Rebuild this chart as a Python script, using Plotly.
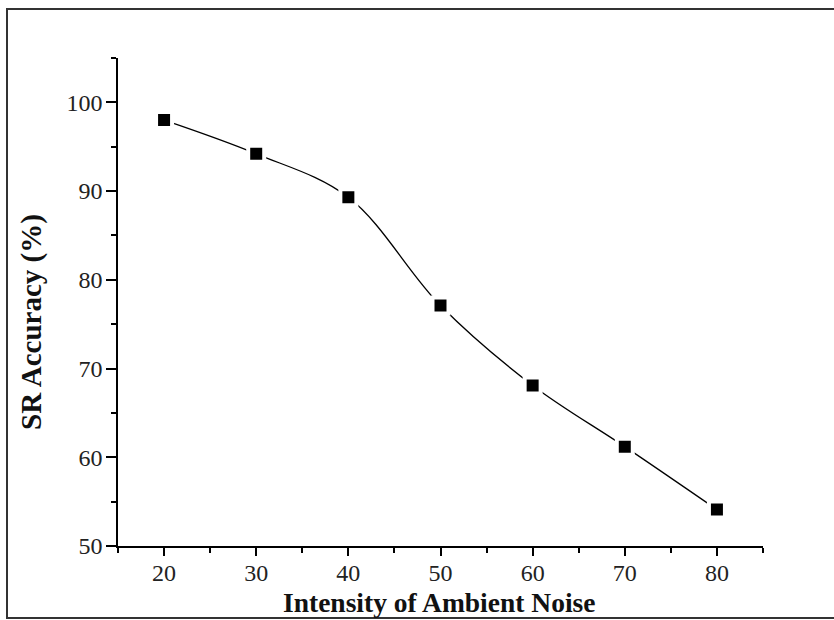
import plotly.graph_objects as go

noise = [20, 30, 40, 50, 60, 70, 80]
accuracy = [98.0, 94.2, 89.3, 77.1, 68.1, 61.2, 54.1]
x_ticks = [20, 30, 40, 50, 60, 70, 80]
y_ticks = [50, 60, 70, 80, 90, 100]
x_title = "Intensity of Ambient Noise"
y_title = "SR Accuracy (%)"

W, H = 834, 620
L, R, T, B = 118, 763, 58, 546

fig = go.Figure()
fig.add_trace(go.Scatter(
    x=noise, y=accuracy, mode="lines+markers",
    line=dict(color="black", width=1.3, shape="spline", smoothing=1),
    marker=dict(symbol="square", size=16, color="black",
                line=dict(color="white", width=4)),
    showlegend=False, cliponaxis=False,
))

font = "Liberation Serif, Times New Roman, serif"
fig.update_layout(
    width=W, height=H,
    margin=dict(l=L, r=W - R, t=T, b=H - B, pad=0, autoexpand=False),
    paper_bgcolor="white", plot_bgcolor="white",
    font=dict(family=font, color="black"),
    xaxis=dict(
        range=[15, 85], tickvals=x_ticks, showgrid=False, zeroline=False,
        showline=True, linecolor="black", linewidth=1.5, automargin=False,
        ticks="outside", ticklen=8, tickwidth=1.5, tickcolor="black",
        minor=dict(dtick=5, tick0=15, ticks="outside", ticklen=5, tickwidth=1.5, tickcolor="black"),
        tickfont=dict(size=24, family=font, color="#222"),
        ticklabelstandoff=-4,
    ),
    yaxis=dict(
        range=[50, 105], tickvals=y_ticks, showgrid=False, zeroline=False,
        showline=True, linecolor="black", linewidth=1.5, automargin=False,
        ticks="outside", ticklen=10, tickwidth=1.5, tickcolor="black",
        minor=dict(dtick=5, tick0=50, ticks="outside", ticklen=5, tickwidth=1.5, tickcolor="black"),
        tickfont=dict(size=24, family=font, color="#222"),
        ticklabelstandoff=-1,
    ),
)

pw, ph = R - L, B - T
def px_x(p):
    return (p - L) / pw
def px_y(p):
    return (B - p) / ph

fig.add_annotation(text="<b>" + x_title + "</b>", xref="paper", yref="paper",
                   x=px_x(439), y=px_y(602), xanchor="center", yanchor="middle",
                   showarrow=False, font=dict(size=27.5, family=font, color="#111"))
fig.add_annotation(text="<b>" + y_title + "</b>", xref="paper", yref="paper",
                   x=px_x(32), y=px_y(322), xanchor="center", yanchor="middle",
                   textangle=-90, showarrow=False,
                   font=dict(size=29, family=font, color="#111"))

fig.add_shape(type="rect", xref="paper", yref="paper",
              x0=px_x(7), x1=px_x(840), y0=px_y(618), y1=px_y(9),
              line=dict(color="#333", width=2), fillcolor="rgba(0,0,0,0)", layer="below")

fig.write_html("out.html", config={"displayModeBar": False},
               post_script="document.body.style.margin='0px';document.body.style.overflow='hidden';")
